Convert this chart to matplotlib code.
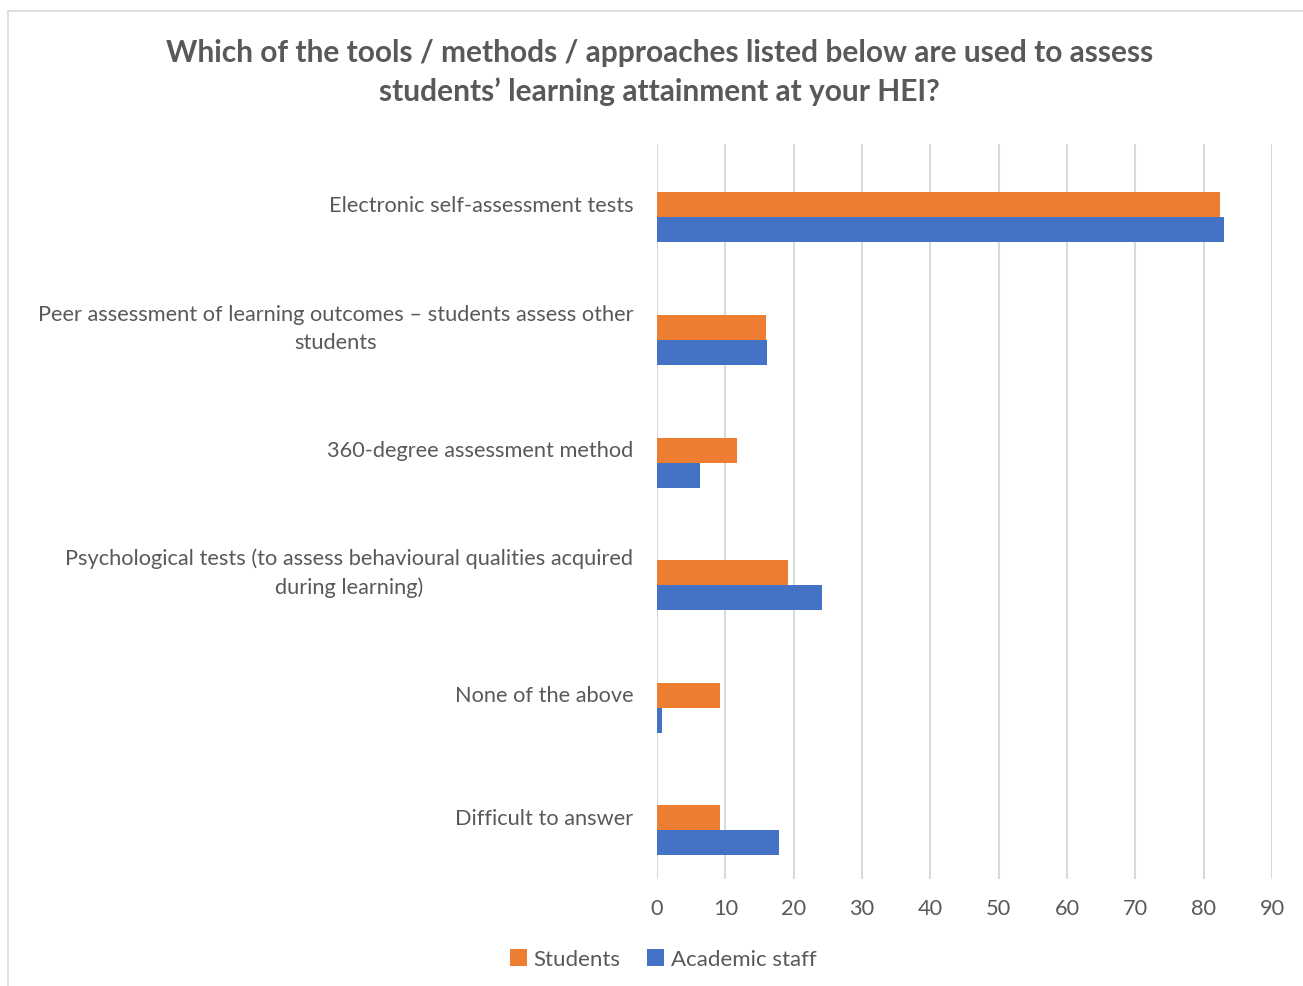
import matplotlib.pyplot as plt
import numpy as np

# ---- data ----
categories = [
    "Electronic self-assessment tests",
    "Peer assessment of learning outcomes \u2013 students assess other\nstudents",
    "360-degree assessment method",
    "Psychological tests (to assess behavioural qualities acquired\nduring learning)",
    "None of the above",
    "Difficult to answer",
]
students = [82.4, 16.0, 11.7, 19.2, 9.2, 9.2]
academic_staff = [83.0, 16.1, 6.3, 24.1, 0.8, 17.9]
x_ticks = list(range(0, 100, 10))

ORANGE = "#ED7D31"
BLUE = "#4472C4"
TEXT = "#595959"
GRID = "#D9D9D9"

plt.rcParams["font.family"] = ["Lato", "DejaVu Sans"]

fig = plt.figure(figsize=(13.03, 9.87), dpi=100)
ax = fig.add_axes([0.5042, 0.1084, 0.472, 0.745])

y = np.arange(len(categories))
h = 0.204
# Excel-style: first series sits on the category line, second just below it
ax.barh(y, students, height=h, color=ORANGE, label="Students", zorder=3)
ax.barh(y + h, academic_staff, height=h, color=BLUE, label="Academic staff", zorder=3)

ax.set_ylim(len(categories) - 0.5, -0.5)
ax.set_xlim(0, 90)
ax.set_xticks(x_ticks)
ax.set_yticks(y)
ax.set_yticklabels(categories, ha="right", va="center", multialignment="center",
                   linespacing=1.5)
ax.tick_params(axis="both", length=0, labelsize=15.7, colors=TEXT)
ax.tick_params(axis="y", pad=17)
ax.tick_params(axis="x", pad=14)
ax.grid(axis="x", color=GRID, linewidth=1.5, zorder=0)
for s in ax.spines.values():
    s.set_visible(False)

fig.text(0.506, 0.9265,
         "Which of the tools / methods / approaches listed below are used to assess\n"
         "students\u2019 learning attainment at your HEI?",
         ha="center", va="center", fontsize=21.5, fontweight="bold", color=TEXT,
         linespacing=1.45)

leg = fig.legend(loc="center", bbox_to_anchor=(0.509, 0.027), ncol=2, frameon=False,
                 fontsize=16, handlelength=0.75, handleheight=0.75, columnspacing=1.2,
                 handletextpad=0.3)
for t in leg.get_texts():
    t.set_color(TEXT)

# chart border
fig.patches.append(plt.Rectangle((8 / 1303, -0.01), 1.0, 1 - 12 / 987 + 0.01,
                                 transform=fig.transFigure, fill=False,
                                 edgecolor=GRID, linewidth=1.2))

fig.savefig("out.png", dpi=100)
